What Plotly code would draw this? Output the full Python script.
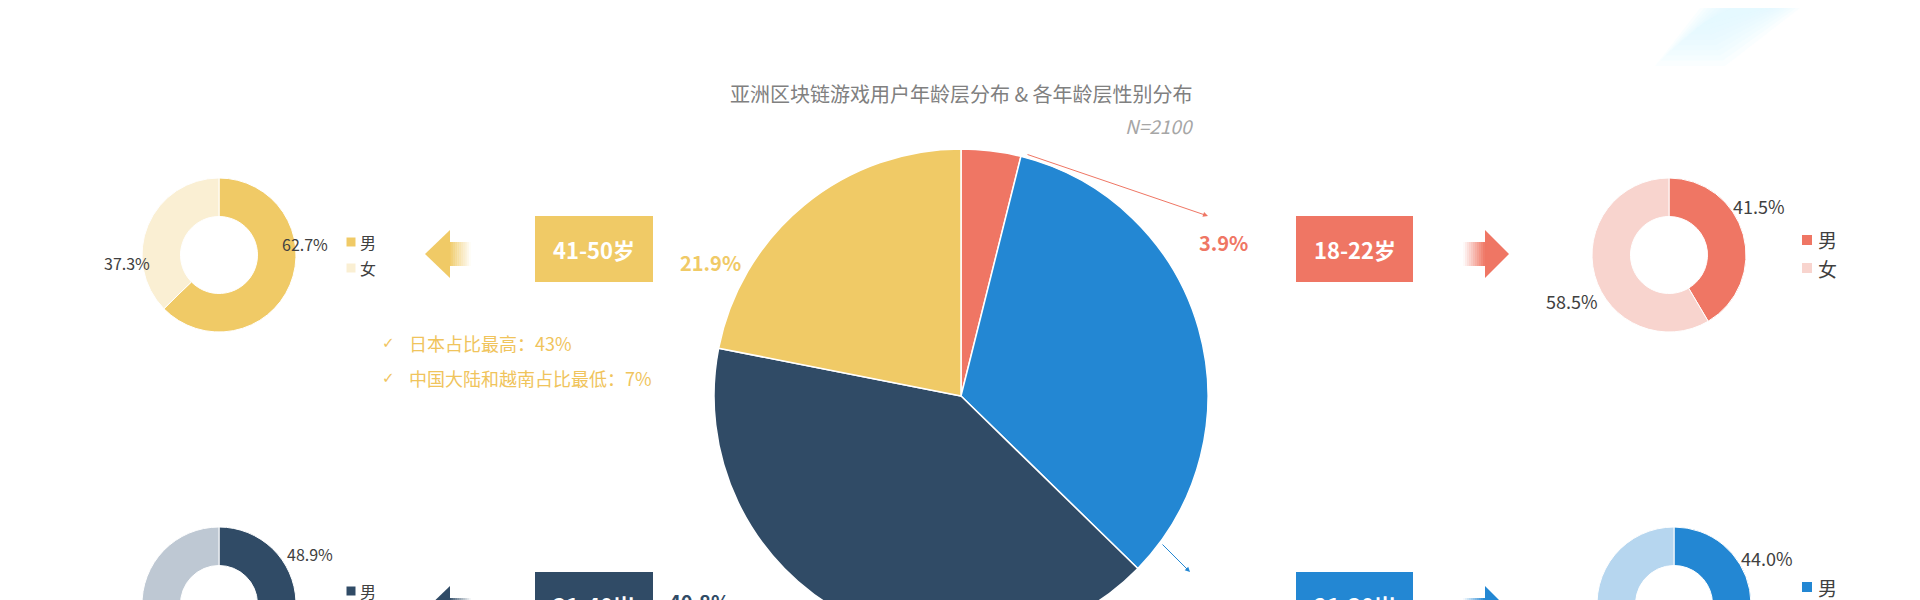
import plotly.graph_objects as go

# ---------------- data ----------------
age_labels = ["18-22岁", "21-30岁", "31-40岁", "41-50岁"]
age_share = [3.9, 33.4, 40.8, 21.9]
age_colors = ["#EF7664", "#2387D3", "#304B66", "#F0CA66"]
light_colors = ["#F8D4CE", "#B6D6EF", "#BEC8D3", "#FAEFD3"]
gender_labels = ["男", "女"]
male_share = [41.5, 44.0, 48.9, 62.7]
female_share = [58.5, 56.0, 51.1, 37.3]
title_text = "亚洲区块链游戏用户年龄层分布 & 各年龄层性别分布"
sample_note = "N=2100"
notes = ["日本占比最高：43%", "中国大陆和越南占比最低：7%"]

# ---------------- layout geometry (pixels) ----------------
W, H = 1920, 700
OFF = 8  # page body margin
FONT = "Noto Sans CJK SC, DejaVu Sans, sans-serif"


def px(x):
    return (x - OFF) / W


def py(y):
    return 1 - (y - OFF) / H


fig = go.Figure()

# main pie
PCX, PCY, PR = 961, 396, 247
fig.add_trace(go.Pie(
    labels=age_labels, values=age_share, sort=False, direction="clockwise",
    rotation=0, marker=dict(colors=age_colors, line=dict(color="white", width=1.5)),
    textinfo="none", hoverinfo="label+percent", showlegend=False,
    domain=dict(x=[px(PCX - PR), px(PCX + PR)], y=[py(PCY + PR), py(PCY - PR)]),
))

place = [
    dict(side="R", cx=1669, cy=255, top=216, ml=(1759, 206), fl=(1572, 301), lg=(240, 268), pl=(1223, 242), big=True),
    dict(side="R", cx=1674, cy=604, top=572, ml=(1767, 558), fl=(1580, 652), lg=(587, 615), pl=(1223, 630), big=True),
    dict(side="L", cx=219, cy=604, top=572, ml=(310, 554), fl=(127, 650), lg=(591, 617), pl=(699, 601), big=False),
    dict(side="L", cx=219, cy=255, top=216, ml=(305, 244), fl=(127, 263), lg=(242, 268), pl=(710, 262), big=False),
]
DR = 77

shapes = []
annots = []

for i, p in enumerate(place):
    fig.add_trace(go.Pie(
        labels=gender_labels, values=[male_share[i], female_share[i]], sort=False,
        direction="clockwise", rotation=0, hole=0.5,
        marker=dict(colors=[age_colors[i], light_colors[i]], line=dict(color="white", width=1)),
        textinfo="none", hoverinfo="label+percent", showlegend=False,
        domain=dict(x=[px(p["cx"] - DR), px(p["cx"] + DR)], y=[py(p["cy"] + DR), py(p["cy"] - DR)]),
    ))
    lab_size = 18 if p["big"] else 16
    for (lx, ly), v in ((p["ml"], male_share[i]), (p["fl"], female_share[i])):
        annots.append(dict(x=px(lx), y=py(ly), xref="paper", yref="paper", text=f"{v:.1f}%",
                           showarrow=False, xanchor="center", yanchor="middle",
                           font=dict(size=lab_size, color="#404040", family=FONT)))
    if p["side"] == "L":
        sq_x, tx = 351, 358
    else:
        sq_x, tx = 1807, 1816
    sq = 4.5 if not p["big"] else 5
    for k, ly in enumerate(p["lg"]):
        col = age_colors[i] if k == 0 else light_colors[i]
        shapes.append(dict(type="rect", xref="paper", yref="paper",
                           x0=px(sq_x - sq), x1=px(sq_x + sq), y0=py(ly + sq), y1=py(ly - sq),
                           fillcolor=col, line=dict(width=0)))
        annots.append(dict(x=px(tx), y=py(ly), xref="paper", yref="paper", text=gender_labels[k],
                           showarrow=False, xanchor="left", yanchor="middle",
                           font=dict(size=19 if p["big"] else 16, color="#404040", family=FONT)))
    if p["side"] == "L":
        bx0, bx1 = 535, 653
    else:
        bx0, bx1 = 1296, 1413
    shapes.append(dict(type="rect", xref="paper", yref="paper", x0=px(bx0), x1=px(bx1),
                       y0=py(p["top"] + 66), y1=py(p["top"]), fillcolor=age_colors[i], line=dict(width=0)))
    annots.append(dict(x=px((bx0 + bx1) / 2), y=py(p["top"] + 33), xref="paper", yref="paper",
                       text=f"<b>{age_labels[i]}</b>", showarrow=False, xanchor="center", yanchor="middle",
                       font=dict(size=22, color="white", family=FONT)))
    annots.append(dict(x=px(p["pl"][0]), y=py(p["pl"][1]), xref="paper", yref="paper",
                       text=f"<b>{age_share[i]:.1f}%</b>", showarrow=False, xanchor="center", yanchor="middle",
                       font=dict(size=20, color=age_colors[i], family=FONT)))
    acy = p["top"] + 38
    if p["side"] == "L":
        tip, base, end = 425, 450, 471
    else:
        tip, base, end = 1509, 1485, 1463
    shapes.append(dict(type="path", xref="paper", yref="paper",
                       path=f"M{px(tip)},{py(acy)} L{px(base)},{py(acy - 24)} L{px(base)},{py(acy + 24)} Z",
                       fillcolor=age_colors[i], line=dict(width=0)))
    nseg = 11
    seg = (end - base) / nseg
    for s in range(nseg):
        a0 = base + s * seg
        a1 = base + (s + 1) * seg
        shapes.append(dict(type="rect", xref="paper", yref="paper",
                           x0=px(min(a0, a1)), x1=px(max(a0, a1)), y0=py(acy + 12), y1=py(acy - 12),
                           fillcolor=age_colors[i], opacity=max(0.0, 1 - (s + 0.5) / nseg),
                           line=dict(width=0)))

# pointer arrows from the pie
annots.append(dict(x=px(1208), y=py(216), ax=-182, ay=-62, xref="paper", yref="paper", text="",
                   showarrow=True, arrowhead=2, arrowsize=1, arrowwidth=1, arrowcolor=age_colors[0]))
annots.append(dict(x=px(1190), y=py(572), ax=-29, ay=-29, xref="paper", yref="paper", text="",
                   showarrow=True, arrowhead=2, arrowsize=1, arrowwidth=1, arrowcolor=age_colors[1]))

# title and sample note
annots.append(dict(x=px(961), y=py(93), xref="paper", yref="paper", text=title_text, showarrow=False,
                   xanchor="center", yanchor="middle", font=dict(size=20, color="#808080", family=FONT)))
annots.append(dict(x=px(1196), y=py(125), xref="paper", yref="paper", text=f"<i>{sample_note}</i>",
                   showarrow=False, xanchor="right", yanchor="middle",
                   font=dict(size=19, color="#A6A6A6", family=FONT)))

# bullet notes
for k, t in enumerate(notes):
    yy = 343 + 35 * k
    annots.append(dict(x=px(380), y=py(yy), xref="paper", yref="paper", text="✓", showarrow=False,
                       xanchor="left", yanchor="middle", font=dict(size=15, color="#F0C45C", family="DejaVu Sans")))
    annots.append(dict(x=px(407), y=py(yy), xref="paper", yref="paper", text=t, showarrow=False,
                       xanchor="left", yanchor="middle", font=dict(size=18, color="#F0C45C", family=FONT)))

# soft cyan streak at top right (layered translucent shapes)
for j in range(9):
    g = j * 4
    top_l, top_r = 1700 + g, 1800 - g
    bot_l, bot_r = 1655 + g * 1.4, 1725 - g * 0.6
    bot_y = 66 - g * 1.3
    shapes.append(dict(type="path", xref="paper", yref="paper", layer="below",
                       path=(f"M{px(top_l)},{py(OFF)} L{px(top_r)},{py(OFF)} "
                             f"L{px(bot_r)},{py(bot_y)} L{px(bot_l)},{py(bot_y)} Z"),
                       fillcolor="#DDF6FF", opacity=0.16, line=dict(width=0)))

fig.update_layout(
    width=W, height=H, margin=dict(l=0, r=0, t=0, b=0),
    paper_bgcolor="white", plot_bgcolor="white",
    font=dict(family=FONT), shapes=shapes, annotations=annots, showlegend=False,
)

fig.write_html("out.html")
